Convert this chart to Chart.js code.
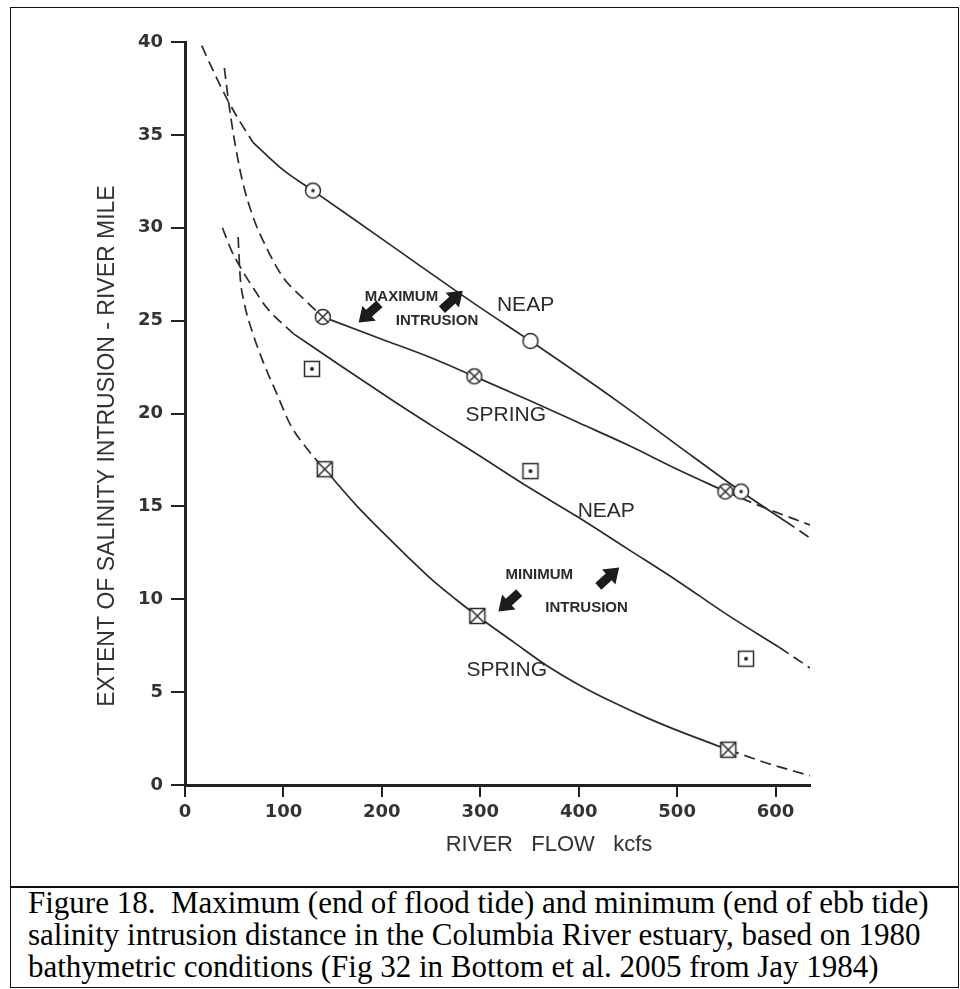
<!DOCTYPE html>
<html>
<head>
<meta charset="utf-8">
<script src="https://cdn.jsdelivr.net/npm/chart.js@4.4.1/dist/chart.umd.min.js"></script>
<style>
  html, body { margin: 0; padding: 0; background: #fff; }
  body { width: 960px; height: 989px; position: relative; overflow: hidden; }
  #frame { position: absolute; left: 10px; top: 7px; width: 949px; height: 881px;
           border: 1.5px solid #111; box-sizing: border-box; }
  #caption { position: absolute; left: 10px; top: 886px; width: 949px; height: 102px;
             border: 1.5px solid #111; box-sizing: border-box; padding: 0 0 0 17px;
             font-family: "Liberation Serif", "Times New Roman", serif; font-size: 31px;
             line-height: 32px; color: #000; white-space: nowrap; }
  #chart { position: absolute; left: 0; top: 0; }
</style>
</head>
<body>
<div id="frame"></div>
<div id="caption">Figure 18.&nbsp; Maximum (end of flood tide) and minimum (end of ebb tide)<br>salinity intrusion distance in the Columbia River estuary, based on 1980<br>bathymetric conditions (Fig 32 in Bottom et al. 2005 from Jay 1984)</div>
<canvas id="chart" width="960" height="880"></canvas>
<script>
// Axis ticks
const flowTicks = [0, 100, 200, 300, 400, 500, 600];          // river flow, kcfs
const mileTicks = [0, 5, 10, 15, 20, 25, 30, 35, 40];          // river mile

// Maximum intrusion (end of flood), neap tide
const neapMaxObsFlow = [130, 351, 565];
const neapMaxObsMile = [32.0, 23.9, 15.8];
const neapMaxFitFlow = [69, 100, 130, 200, 300, 351, 441, 500, 565, 610];
const neapMaxFitMile = [34.6, 33.1, 32.0, 29.4, 25.7, 23.9, 20.6, 18.3, 15.8, 14.2];
const neapMaxLowFlow = [17, 30, 43, 56, 69];
const neapMaxLowMile = [39.8, 38.3, 36.9, 35.7, 34.6];
const neapMaxHighFlow = [610, 635];
const neapMaxHighMile = [14.2, 13.3];

// Maximum intrusion (end of flood), spring tide
const springMaxObsFlow = [140, 294, 549];
const springMaxObsMile = [25.2, 22.0, 15.8];
const springMaxFitFlow = [140, 200, 250, 294, 350, 400, 450, 500, 549];
const springMaxFitMile = [25.2, 24.0, 23.0, 22.0, 20.7, 19.5, 18.3, 17.0, 15.8];
const springMaxLowFlow = [40, 44, 49, 58, 69, 84, 100, 120, 140];
const springMaxLowMile = [38.6, 36.9, 35.1, 32.6, 30.6, 28.8, 27.3, 26.2, 25.2];
const springMaxHighFlow = [549, 590, 635];
const springMaxHighMile = [15.8, 14.9, 14.0];

// Minimum intrusion (end of ebb), neap tide
const neapMinObsFlow = [129, 351, 570];
const neapMinObsMile = [22.4, 16.9, 6.8];
const neapMinFitFlow = [110, 160, 211, 255, 300, 350, 400, 450, 500, 550, 604];
const neapMinFitMile = [24.3, 22.5, 20.7, 19.2, 17.7, 16.0, 14.4, 12.7, 11.0, 9.2, 7.4];
const neapMinLowFlow = [38, 47, 56, 70, 83, 110];
const neapMinLowMile = [30.0, 28.8, 27.9, 26.7, 25.7, 24.3];
const neapMinHighFlow = [604, 635];
const neapMinHighMile = [7.4, 6.3];

// Minimum intrusion (end of ebb), spring tide
const springMinObsFlow = [142, 297, 552];
const springMinObsMile = [17.0, 9.1, 1.9];
const springMinFitFlow = [142, 175, 201, 226, 252, 275, 297, 335, 367, 400, 435, 470, 502, 552];
const springMinFitMile = [17.0, 15.0, 13.6, 12.3, 11.0, 10.0, 9.1, 7.65, 6.45, 5.4, 4.45, 3.6, 2.9, 1.9];
const springMinLowFlow = [54, 56, 60, 69, 80, 93, 107, 124, 142];
const springMinLowMile = [29.5, 27.4, 26.0, 24.3, 22.7, 21.1, 19.4, 18.1, 17.0];
const springMinHighFlow = [552, 590, 635];
const springMinHighMile = [1.9, 1.2, 0.5];

const INK = '#2b2b2b';
const SANS = '"Liberation Sans", Arial, Helvetica, sans-serif';
const TICK_FONT = { family: '"DejaVu Sans", sans-serif', size: 18, weight: 'bold' };

const pts = (xs, ys) => xs.map((x, i) => ({ x, y: ys[i] }));

// Small glyph images for the observation symbols
function glyph(kind) {
  const c = document.createElement('canvas');
  c.width = 22; c.height = 22;
  const g = c.getContext('2d');
  const m = 11;
  g.strokeStyle = INK; g.fillStyle = '#fff'; g.lineWidth = 1.5;
  if (kind.startsWith('circle')) {
    g.beginPath(); g.arc(m, m, 7.5, 0, Math.PI * 2); g.fill(); g.stroke();
    if (kind === 'circleCross') {
      const d = 5.3;
      g.beginPath();
      g.moveTo(m - d, m - d); g.lineTo(m + d, m + d);
      g.moveTo(m + d, m - d); g.lineTo(m - d, m + d);
      g.stroke();
    }
    if (kind === 'circleDot') {
      g.fillStyle = INK; g.beginPath(); g.arc(m, m, 1.8, 0, Math.PI * 2); g.fill();
    }
  } else {
    const h = 7.5;
    g.beginPath(); g.rect(m - h, m - h, 2 * h, 2 * h); g.fill(); g.stroke();
    if (kind === 'squareCross') {
      g.beginPath();
      g.moveTo(m - h, m - h); g.lineTo(m + h, m + h);
      g.moveTo(m + h, m - h); g.lineTo(m - h, m + h);
      g.stroke();
    }
    if (kind === 'squareDot') {
      g.fillStyle = INK; g.beginPath(); g.arc(m, m, 2, 0, Math.PI * 2); g.fill();
    }
  }
  return c;
}
const G = {
  circle: glyph('circle'), circleDot: glyph('circleDot'), circleCross: glyph('circleCross'),
  squareDot: glyph('squareDot'), squareCross: glyph('squareCross')
};

const solid = (data) => ({
  data, showLine: true, pointRadius: 0, borderColor: INK, borderWidth: 1.7,
  cubicInterpolationMode: 'monotone', fill: false, order: 2
});
const dashed = (data) => ({ ...solid(data), borderDash: [11, 6] });
const marks = (data, style) => ({
  data, showLine: false, pointStyle: style, pointRadius: 8, order: 0
});

const datasets = [
  marks(pts(neapMaxObsFlow, neapMaxObsMile), [G.circleDot, G.circle, G.circleDot]),
  marks(pts(springMaxObsFlow, springMaxObsMile), G.circleCross),
  marks(pts(neapMinObsFlow, neapMinObsMile), G.squareDot),
  marks(pts(springMinObsFlow, springMinObsMile), G.squareCross),

  solid(pts(neapMaxFitFlow, neapMaxFitMile)),
  dashed(pts(neapMaxLowFlow, neapMaxLowMile)),
  dashed(pts(neapMaxHighFlow, neapMaxHighMile)),

  solid(pts(springMaxFitFlow, springMaxFitMile)),
  dashed(pts(springMaxLowFlow, springMaxLowMile)),
  dashed(pts(springMaxHighFlow, springMaxHighMile)),

  solid(pts(neapMinFitFlow, neapMinFitMile)),
  dashed(pts(neapMinLowFlow, neapMinLowMile)),
  dashed(pts(neapMinHighFlow, neapMinHighMile)),

  solid(pts(springMinFitFlow, springMinFitMile)),
  dashed(pts(springMinLowFlow, springMinLowMile)),
  dashed(pts(springMinHighFlow, springMinHighMile)),
];

// Curve labels and the "maximum / minimum intrusion" callouts, placed in data units
const notes = [
  { text: 'NEAP',      q: 346, m: 25.85, font: `21px ${SANS}` },
  { text: 'SPRING',    q: 326, m: 19.9,  font: `21px ${SANS}` },
  { text: 'NEAP',      q: 428, m: 14.75, font: `21px ${SANS}` },
  { text: 'SPRING',    q: 327, m: 6.2,   font: `21px ${SANS}` },
  { text: 'MAXIMUM',   q: 220, m: 26.3,  font: `bold 15px ${SANS}` },
  { text: 'INTRUSION', q: 256, m: 25.0,  font: `bold 15px ${SANS}` },
  { text: 'MINIMUM',   q: 360, m: 11.3,  font: `bold 15px ${SANS}` },
  { text: 'INTRUSION', q: 408, m: 9.53,  font: `bold 15px ${SANS}` },
];
const arrows = [
  { q: 187,   m: 25.4,  angle: 138 },
  { q: 271.6, m: 26.1,  angle: -42 },
  { q: 329,   m: 9.85,  angle: 138 },
  { q: 430.5, m: 11.2,  angle: -42 },
];

function blockArrow(ctx, cx, cy, deg) {
  ctx.save();
  ctx.translate(cx, cy);
  ctx.rotate(deg * Math.PI / 180);
  ctx.beginPath();
  ctx.moveTo(-14, -4.5);
  ctx.lineTo(0, -4.5);
  ctx.lineTo(0, -10);
  ctx.lineTo(14, 0);
  ctx.lineTo(0, 10);
  ctx.lineTo(0, 4.5);
  ctx.lineTo(-14, 4.5);
  ctx.closePath();
  ctx.fillStyle = '#1c1c1c';
  ctx.fill();
  ctx.restore();
}

const figureText = {
  id: 'figureText',
  afterDraw(chart) {
    const { ctx, scales: { x, y } } = chart;
    ctx.save();
    ctx.fillStyle = INK;
    ctx.textAlign = 'center';
    ctx.textBaseline = 'middle';
    notes.forEach(n => {
      ctx.font = n.font;
      ctx.fillText(n.text, x.getPixelForValue(n.q), y.getPixelForValue(n.m));
    });
    arrows.forEach(a => blockArrow(ctx, x.getPixelForValue(a.q), y.getPixelForValue(a.m), a.angle));

    // axis titles
    ctx.fillStyle = '#333';
    ctx.font = `23px ${SANS}`;
    ctx.save();
    ctx.translate(108, 446);
    ctx.rotate(-Math.PI / 2);
    ctx.fillText('EXTENT OF SALINITY INTRUSION - RIVER MILE', 0, 0);
    ctx.restore();
    ctx.font = `22px ${SANS}`;
    ctx.fillText('RIVER   FLOW   kcfs', 549, 845);
    ctx.restore();
  }
};

new Chart(document.getElementById('chart'), {
  type: 'scatter',
  data: { datasets },
  options: {
    responsive: false,
    animation: false,
    events: [],
    layout: { padding: { left: 0, right: 150, top: 42, bottom: 0 } },
    plugins: { legend: { display: false }, tooltip: { enabled: false } },
    scales: {
      x: {
        type: 'linear', min: 0, max: 635,
        afterBuildTicks: s => { s.ticks = flowTicks.map(v => ({ value: v })); },
        afterFit: s => { s.height = 95; },
        ticks: { font: TICK_FONT, color: '#333', padding: 5, maxRotation: 0, autoSkip: false },
        grid: { drawOnChartArea: false, drawTicks: true, tickLength: 12, lineWidth: 2, tickWidth: 2, color: '#222', tickColor: '#222' },
        border: { display: true, width: 3, color: '#222' }
      },
      y: {
        type: 'linear', min: 0, max: 40,
        afterBuildTicks: s => { s.ticks = mileTicks.map(v => ({ value: v })); },
        afterFit: s => { s.width = 185; },
        ticks: { font: TICK_FONT, color: '#333', padding: 8, autoSkip: false },
        grid: { drawOnChartArea: false, drawTicks: true, tickLength: 14, lineWidth: 2, tickWidth: 2, color: '#222', tickColor: '#222' },
        border: { display: true, width: 3, color: '#222' }
      }
    }
  },
  plugins: [figureText]
});
</script>
</body>
</html>
